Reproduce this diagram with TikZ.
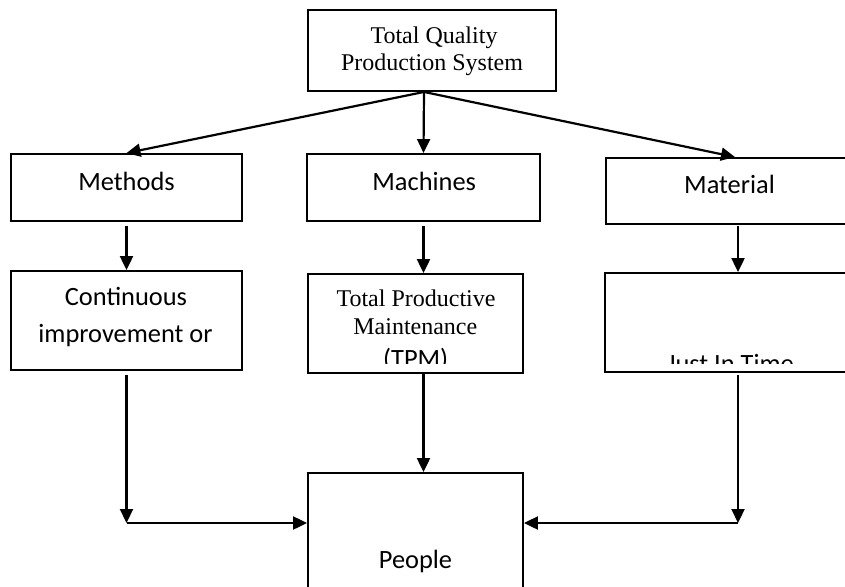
\documentclass[tikz,border=0pt]{standalone}
\usepackage{fontspec}
\setmainfont{Liberation Serif}
\newfontfamily\calfont{Carlito}
\usetikzlibrary{arrows.meta}
\begin{document}
\begin{tikzpicture}[x=1pt,y=-1pt,
  box/.style={draw, line width=1.9pt, inner sep=0pt},
  arr/.style={line width=2.2pt, -{Triangle[length=14pt,width=13pt]}},
  sans/.style={font=\calfont\fontsize{26.4}{32}\selectfont, anchor=base, inner sep=0pt},
  serif/.style={font=\fontsize{24}{28}\selectfont, anchor=base, inner sep=0pt}]
\path[use as bounding box, fill=white] (0,0) rectangle (845,586);

% boxes
\node[box, minimum width=248pt, minimum height=81pt] (top) at (432,50.5) {};
\node[box, minimum width=231pt, minimum height=67pt] (methods) at (126.5,187.5) {};
\node[box, minimum width=233pt, minimum height=67pt] (machines) at (423.5,187.5) {};
\node[box, minimum width=264pt, minimum height=66pt] (material) at (738,191) {};
\node[box, minimum width=231pt, minimum height=99pt] (cont) at (126.5,320.5) {};
\node[box, minimum width=215pt, minimum height=99pt] (tpm) at (415.5,323.5) {};
\node[box, minimum width=265pt, minimum height=99pt] (jit) at (737.5,322.5) {};
\node[box, minimum width=215pt, minimum height=147pt] (people) at (415.5,546.5) {};

% texts
\node[serif] (t1) at (434,44) {Total Quality};
\node[serif] (t2) at (432,70.7) {Production System};
\node[sans] (m1) at (126.5,190.7) {Methods};
\node[sans] (m2) at (424.2,190) {Machines};
\node[sans] (m3) at (729.5,193.3) {Material};
\node[sans] (c1) at (126,305.7) {Continuous};
\node[sans] (c2) at (125.5,342.7) {improvement or};
\begin{scope}
  \clip (tpm.north west) rectangle ([yshift=10pt]tpm.south east);
  \node[serif] (p1) at (416,306) {Total Productive};
  \node[serif] (p2) at (415.3,334.3) {Maintenance};
  \node[sans] (p3) at (415.7,367) {(TPM)};
\end{scope}
\begin{scope}
  \clip (jit.north west) rectangle ([yshift=9pt]jit.south east);
  \node[sans] (j1) at (730.5,372) {Just In Time};
\end{scope}
\node[sans] (pp) at (415.5,568) {People};

% connectors
\coordinate (o) at ([xshift=-8pt]top.south);
\draw[arr] (o) -- (methods.north);
\draw[arr] (o) -- (machines.north);
\draw[arr] (o) -- ([xshift=-3pt]material.north);
\draw[arr, shorten <=4pt] (methods.south) -- (cont.north);
\draw[arr, shorten <=4pt] (machines.south) -- (machines.south |- tpm.north);
\draw[arr, shorten <=1pt] (material.south) -- (material.south |- jit.north);
\draw[arr] (tpm.south -| machines.south) -- (machines.south |- people.north);
\coordinate (lc) at (cont.south |- 0,523);
\coordinate (rc) at (material.south |- 0,523);
\draw[arr, shorten <=4pt] (cont.south) -- (lc);
\draw[arr] (lc) -- (lc -| people.west);
\draw[arr, shorten <=2pt] (jit.south -| material.south) -- (rc);
\draw[arr] (rc) -- (rc -| people.east);
\end{tikzpicture}
\end{document}
